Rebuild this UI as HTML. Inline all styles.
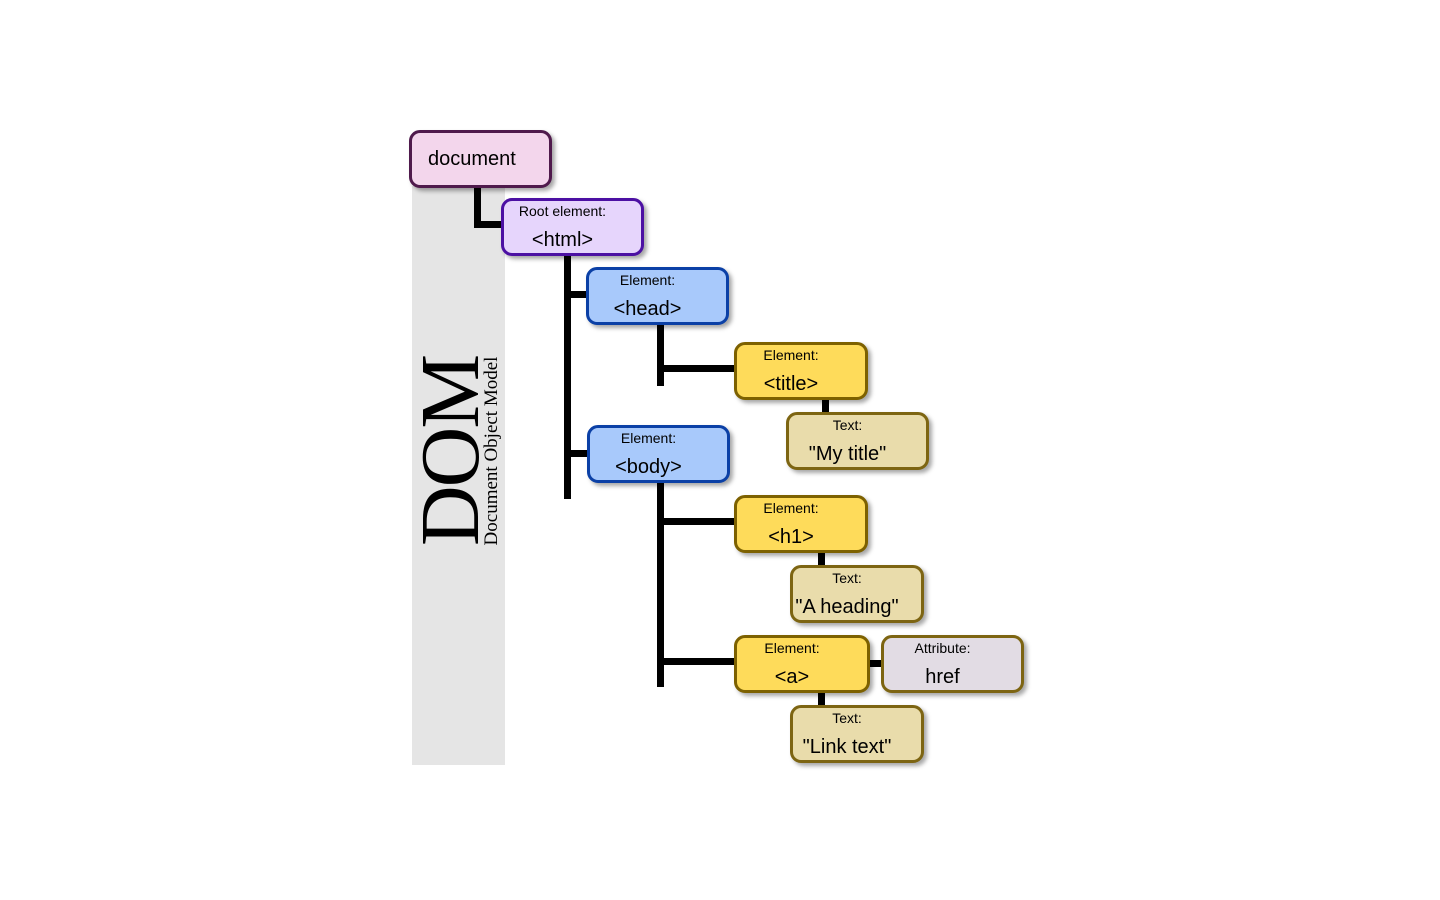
<!DOCTYPE html>
<html><head><meta charset="utf-8"><style>
html,body{margin:0;padding:0;background:#fff;width:1440px;height:900px;overflow:hidden;position:relative;font-family:"Liberation Sans",Arial,sans-serif}
.b{position:absolute;box-sizing:border-box;border:3px solid;border-radius:11px;box-shadow:3px 3px 4px rgba(0,0,0,.35);text-align:center}
.l{position:absolute;left:0;right:20px;top:2px;font-size:14px;line-height:16px;color:#000}
.m{position:absolute;left:0;right:20px;top:27px;font-size:20px;line-height:24px;color:#000}
.k{position:absolute;background:#000}
.y{background:#fedb5a;border-color:#7d6100}
.t{background:#e9dcab;border-color:#7d6512}
.bl{background:#a8c9fb;border-color:#0b40a6}
</style></head><body>
<div style="position:absolute;left:412px;top:186px;width:93px;height:579px;background:#e5e5e5"></div>
<div style="position:absolute;left:451px;top:451px;width:0;height:0">
<div style="position:absolute;transform:translate(-50%,-50%) rotate(-90deg);font-family:'Liberation Serif',serif;font-size:84px;line-height:64px;white-space:nowrap;letter-spacing:-2px;transform-origin:center">DOM</div></div>
<div style="position:absolute;left:492px;top:451px;width:0;height:0">
<div style="position:absolute;transform:translate(-50%,-50%) rotate(-90deg);font-family:'Liberation Serif',serif;font-size:19px;line-height:18px;white-space:nowrap">Document Object Model</div></div>

<div class="k" style="left:474px;top:186px;width:7px;height:42px"></div>
<div class="k" style="left:474px;top:221px;width:28px;height:7px"></div>
<div class="k" style="left:564px;top:254px;width:7px;height:245px"></div>
<div class="k" style="left:564px;top:291px;width:24px;height:7px"></div>
<div class="k" style="left:564px;top:450px;width:25px;height:7px"></div>
<div class="k" style="left:657px;top:323px;width:7px;height:63px"></div>
<div class="k" style="left:657px;top:365px;width:78px;height:7px"></div>
<div class="k" style="left:822px;top:398px;width:7px;height:15px"></div>
<div class="k" style="left:657px;top:481px;width:7px;height:206px"></div>
<div class="k" style="left:657px;top:518px;width:78px;height:7px"></div>
<div class="k" style="left:657px;top:658px;width:78px;height:7px"></div>
<div class="k" style="left:818px;top:551px;width:7px;height:15px"></div>
<div class="k" style="left:818px;top:691px;width:7px;height:15px"></div>
<div class="k" style="left:868px;top:660px;width:14px;height:7px"></div>

<div class="b" style="left:409px;top:130px;width:143px;height:58px;background:#f3d6ec;border-color:#4f1a4c;text-align:left"><div class="m" style="left:16px;top:14px">document</div></div>
<div class="b" style="left:501px;top:198px;width:143px;height:58px;background:#e6d5fc;border-color:#4c10a3"><div class="l">Root element:</div><div class="m">&lt;html&gt;</div></div>
<div class="b bl" style="left:586px;top:267px;width:143px;height:58px"><div class="l">Element:</div><div class="m">&lt;head&gt;</div></div>
<div class="b y" style="left:734px;top:342px;width:134px;height:58px"><div class="l">Element:</div><div class="m">&lt;title&gt;</div></div>
<div class="b t" style="left:786px;top:412px;width:143px;height:58px"><div class="l">Text:</div><div class="m">"My title"</div></div>
<div class="b bl" style="left:587px;top:425px;width:143px;height:58px"><div class="l">Element:</div><div class="m">&lt;body&gt;</div></div>
<div class="b y" style="left:734px;top:495px;width:134px;height:58px"><div class="l">Element:</div><div class="m">&lt;h1&gt;</div></div>
<div class="b t" style="left:790px;top:565px;width:134px;height:58px"><div class="l">Text:</div><div class="m">"A heading"</div></div>
<div class="b y" style="left:734px;top:635px;width:136px;height:58px"><div class="l">Element:</div><div class="m">&lt;a&gt;</div></div>
<div class="b" style="left:881px;top:635px;width:143px;height:58px;background:#e2dce4;border-color:#7d6512"><div class="l">Attribute:</div><div class="m">href</div></div>
<div class="b t" style="left:790px;top:705px;width:134px;height:58px"><div class="l">Text:</div><div class="m">"Link text"</div></div>
</body></html>
